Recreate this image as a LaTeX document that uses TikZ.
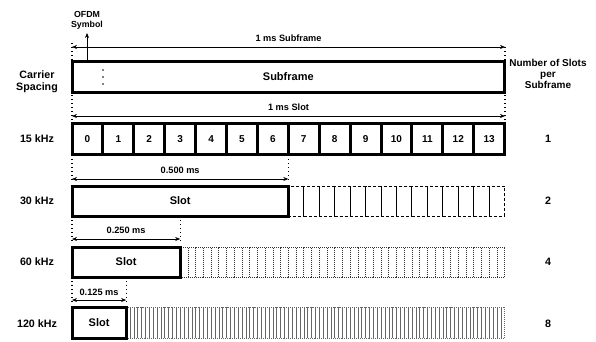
\documentclass[tikz,border=0pt]{standalone}
\usepackage{fontspec}
\setmainfont{Liberation Sans}
\usetikzlibrary{arrows.meta}
\begin{document}
\begin{tikzpicture}[x=1pt,y=-1pt,
  thickbox/.style={draw, line width=3pt, inner sep=0pt, font=\bfseries\fontsize{11}{13}\selectfont},
  symbox/.style={draw, line width=3pt, inner sep=0pt, minimum width=30.9pt, minimum height=31pt, font=\bfseries\fontsize{10}{12}\selectfont},
  dashbox/.style={draw, line width=1pt, dash pattern=on 3pt off 2pt, inner sep=0pt, minimum width=15.45pt, minimum height=30pt},
  dotbox/.style={draw=black!80, line width=0.6pt, dash pattern=on 0.8pt off 1.2pt, inner sep=0pt, minimum height=30pt},
  lbl/.style={font=\bfseries\fontsize{10.7}{12.5}\selectfont, align=center},
  alabel/.style={font=\bfseries\fontsize{9.2}{11}\selectfont},
  dim/.style={line width=0.6pt, {Stealth[length=5pt,width=4pt]}-{Stealth[length=5pt,width=4pt]}},
  guide/.style={line width=1.2pt, dash pattern=on 1pt off 3pt},
]
\useasboundingbox (0,0) rectangle (596,341);

% left labels
\node[lbl] (cs) at (37,82) {Carrier\\[-1pt]Spacing};
\node[lbl] (k15) at (37,139) {15 kHz};
\node[lbl] (k30) at (37,201) {30 kHz};
\node[lbl] (k60) at (37,262) {60 kHz};
\node[lbl] (k120) at (37,324) {120 kHz};
% right labels
\node[lbl, font=\bfseries\fontsize{10}{12}\selectfont] (ns) at (548,74) {Number of Slots\\[-1pt]per\\[-1pt]Subframe};
\node[lbl] (n1) at (548,139) {1};
\node[lbl] (n2) at (548,201) {2};
\node[lbl] (n4) at (548,262) {4};
\node[lbl] (n8) at (548,324) {8};

% subframe
\node[thickbox, minimum width=432.6pt, minimum height=31pt] (sf) at (288.3,76.5) {Subframe};
\node[circle, fill, inner sep=0.6pt] (d1) at (103,70) {};
\node[circle, fill, inner sep=0.6pt] (d2) at (103,77) {};
\node[circle, fill, inner sep=0.6pt] (d3) at (103,84) {};

% OFDM symbol
\node[lbl, font=\bfseries\fontsize{8.8}{10}\selectfont] (ofdm) at (87,20) {OFDM\\Symbol};
\coordinate (ofb) at (87,61);
\coordinate (oft) at (87,33);
\draw[line width=0.6pt, -{Stealth[length=5pt,width=4pt]}] (ofb) -- (oft);

% guides top
\coordinate (gL0) at (72,43);  \coordinate (gL1) at (72,120);
\coordinate (gR0) at (505,47); \coordinate (gR1) at (505,120);
\draw[guide] (gL0) -- (gL1);
\draw[guide] (gR0) -- (gR1);

% 1 ms Subframe arrow
\coordinate (a1l) at (72,47); \coordinate (a1r) at (505,47);
\draw[dim] (a1l) -- node[alabel, above=2pt] (t1) {1 ms Subframe} (a1r);
% 1 ms Slot arrow
\coordinate (a2l) at (72,116); \coordinate (a2r) at (505,116);
\draw[dim] (a2l) -- node[alabel, above=2pt] (t2) {1 ms Slot} (a2r);

% symbols 15 kHz
\foreach \i in {0,...,13} {
  \node[symbox] (s\i) at ({72+30.9*\i+15.45},139) {\i};
}

% 30 kHz
\coordinate (g30a) at (72,155); \coordinate (g30b) at (72,183);
\coordinate (g30c) at (288.3,155); \coordinate (g30d) at (288.3,182);
\draw[guide] (g30a) -- (g30b);
\draw[guide] (g30c) -- (g30d);
\coordinate (a3l) at (72,179); \coordinate (a3r) at (288.3,179);
\draw[dim] (a3l) -- node[alabel, above=2pt] (t3) {0.500 ms} (a3r);
\foreach \i in {0,...,13} {
  \node[dashbox] (d30\i) at ({288.3+15.45*\i+7.725},201) {};
}
\node[thickbox, minimum width=216.3pt, minimum height=30pt] (sl30) at ({72+108.15},201) {Slot};

% 60 kHz
\coordinate (g60a) at (72,216); \coordinate (g60b) at (72,243);
\coordinate (g60c) at (180.15,216); \coordinate (g60d) at (180.15,242);
\draw[guide] (g60a) -- (g60b);
\draw[guide] (g60c) -- (g60d);
\coordinate (a4l) at (72,239); \coordinate (a4r) at (180.15,239);
\draw[dim] (a4l) -- node[alabel, above=2pt] (t4) {0.250 ms} (a4r);
\foreach \i in {0,...,41} {
  \node[dotbox, minimum width=7.725pt] (d60\i) at ({180.15+7.725*\i+3.8625},262) {};
}
\node[thickbox, minimum width=108.15pt, minimum height=30pt] (sl60) at ({72+54.075},262) {Slot};

% 120 kHz
\coordinate (g12a) at (72,277); \coordinate (g12b) at (72,304);
\coordinate (g12c) at (126.1,277); \coordinate (g12d) at (126.1,303);
\draw[guide] (g12a) -- (g12b);
\draw[guide] (g12c) -- (g12d);
\coordinate (a5l) at (72,300); \coordinate (a5r) at (126.1,300);
\draw[dim] (a5l) -- node[alabel, above=1pt] (t5) {0.125 ms} (a5r);
\foreach \i in {0,...,97} {
  \node[dotbox, draw=black!60, line width=0.5pt, minimum width=3.8625pt, minimum height=31pt] (d12\i) at ({126.1+3.8625*\i+1.93},322.5) {};
}
\node[thickbox, minimum width=54.1pt, minimum height=31pt] (sl12) at ({72+27.05},322.5) {Slot};
\end{tikzpicture}
\end{document}
